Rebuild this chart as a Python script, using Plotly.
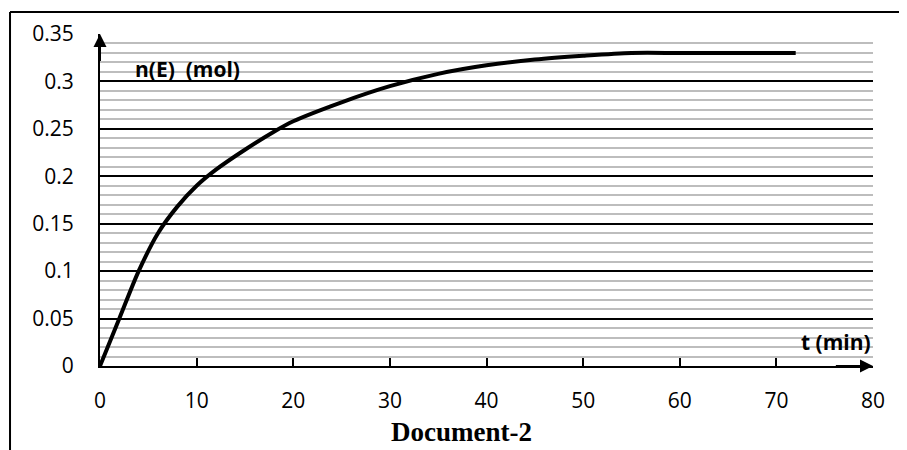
import plotly.graph_objects as go

t_min = [0, 2, 4, 6, 8, 10, 12, 15, 18, 20, 25, 30, 35, 40, 45, 50, 55, 60, 65, 72]
n_E = [0, 0.05, 0.1, 0.14, 0.168, 0.19, 0.207, 0.228, 0.247, 0.258, 0.278, 0.295, 0.308, 0.317, 0.323, 0.327, 0.33, 0.33, 0.33, 0.33]

x_ticks = [0, 10, 20, 30, 40, 50, 60, 70, 80]
y_ticks = [0, 0.05, 0.1, 0.15, 0.2, 0.25, 0.3, 0.35]
y_tick_labels = ["0", "0.05", "0.1", "0.15", "0.2", "0.25", "0.3", "0.35"]

fig = go.Figure()
fig.add_trace(go.Scatter(x=t_min, y=n_E, mode="lines",
                         line=dict(color="black", width=4, shape="spline", smoothing=0.8),
                         hoverinfo="skip", showlegend=False))

FAM = "Open Sans, Noto Sans, sans-serif"
font_tick = dict(family=FAM, size=21, color="black")

# page body has an 8px default margin, so the figure is sized 8px smaller
fig.update_layout(
    width=899, height=442,
    margin=dict(l=92, r=34, t=26, b=84),
    paper_bgcolor="white", plot_bgcolor="white",
    showlegend=False,
    xaxis=dict(range=[0, 80], tickvals=x_ticks, ticktext=[str(v) for v in x_ticks],
               showgrid=False, zeroline=False, showline=True, linecolor="black", linewidth=2,
               ticks="inside", ticklen=8, tickwidth=1.5, tickcolor="black",
               tickfont=font_tick, ticklabelstandoff=15, fixedrange=True),
    yaxis=dict(range=[0, 0.35], tickvals=y_ticks, ticktext=y_tick_labels,
               showgrid=True, gridcolor="black", gridwidth=1.5,
               minor=dict(dtick=0.01, showgrid=True, gridcolor="#bdbdbd", gridwidth=2, ticks=""),
               zeroline=False, showline=True, linecolor="black", linewidth=2,
               ticks="", tickfont=font_tick, ticklabelstandoff=20, fixedrange=True),
)

# axis arrows
fig.add_annotation(x=0, y=0.35, ax=0, ay=0.32, xref="x", yref="y", axref="x", ayref="y",
                   showarrow=True, arrowhead=2, arrowsize=1.3, arrowwidth=2, arrowcolor="black", text="")
fig.add_annotation(x=80, y=0, ax=76, ay=0, xref="x", yref="y", axref="x", ayref="y",
                   showarrow=True, arrowhead=2, arrowsize=1.3, arrowwidth=2, arrowcolor="black", text="")

# axis titles
fig.add_annotation(x=3.4, y=0.3, xref="x", yref="y", xanchor="left", yanchor="bottom",
                   text="<b>n(E)  (mol)</b>", showarrow=False, yshift=-4,
                   font=dict(family=FAM, size=21, color="black"))
fig.add_annotation(x=80, y=0, xref="x", yref="y", xanchor="right", yanchor="bottom",
                   text="<b>t (min)</b>", showarrow=False, yshift=8,
                   font=dict(family=FAM, size=21, color="black"))

# document caption
fig.add_annotation(x=0.468, y=-0.2, xref="paper", yref="paper", xanchor="center", yanchor="middle",
                   text="<b>Document-2</b>", showarrow=False,
                   font=dict(family="Liberation Serif, Times New Roman, serif", size=27, color="black"))

# outer frame
fig.add_shape(type="line", xref="paper", yref="paper", x0=-0.1164, x1=1.06, y0=1.0663, y1=1.0663,
              line=dict(color="black", width=2))
fig.add_shape(type="line", xref="paper", yref="paper", x0=-0.1164, x1=-0.1164, y0=1.0663, y1=-0.3,
              line=dict(color="black", width=2))

fig.write_html("out.html")
